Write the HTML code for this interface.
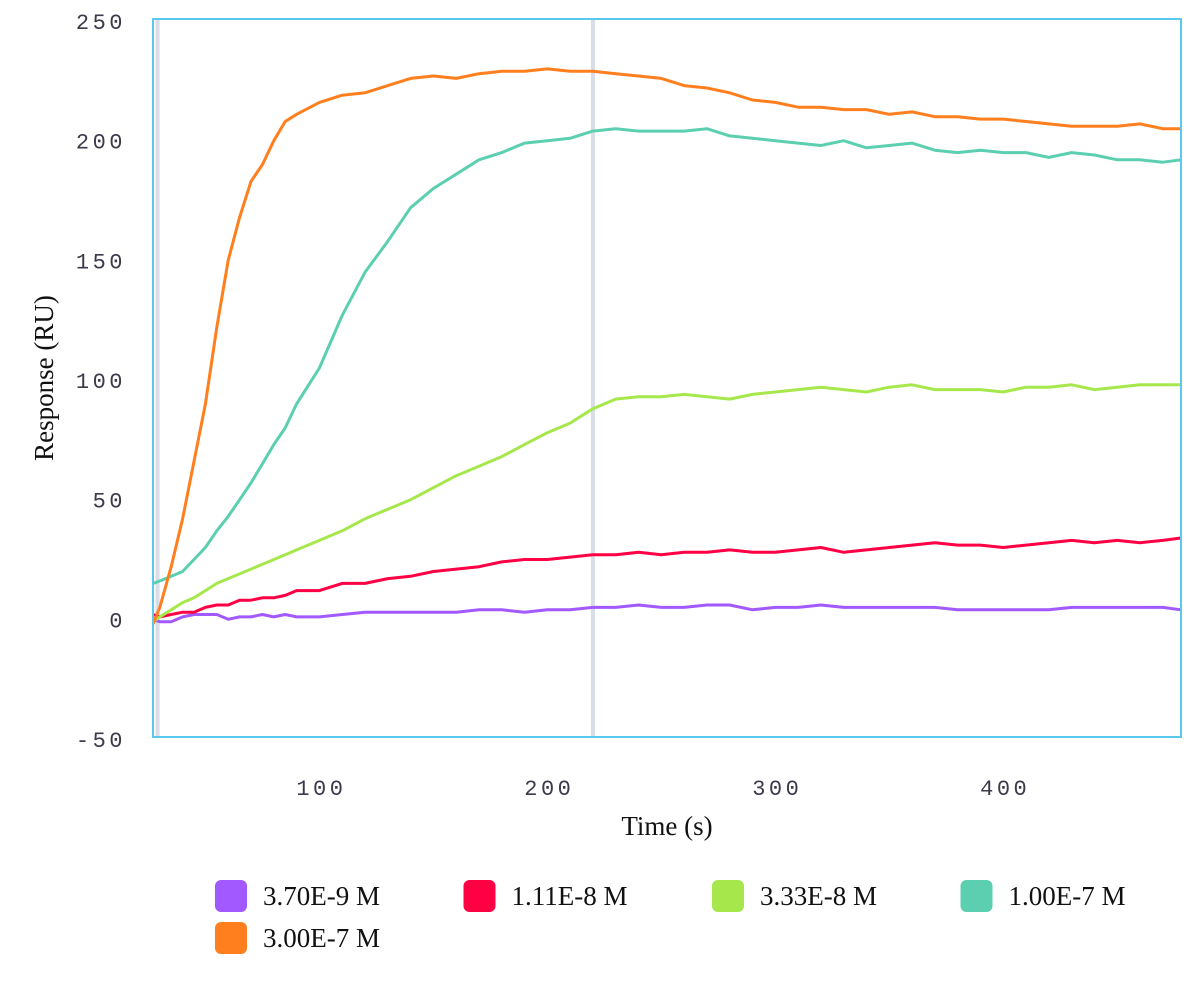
<!DOCTYPE html>
<html><head><meta charset="utf-8"><style>
body{margin:0;background:#fff;width:1200px;height:1000px;overflow:hidden}
svg{display:block}
.tick{font-family:"Liberation Mono",monospace;font-size:22px;fill:#3a3a4a;letter-spacing:3.5px}
.title{font-family:"Liberation Serif",serif;font-size:27px;fill:#111}
.leg{font-family:"Liberation Serif",serif;font-size:27px;fill:#111}
</style></head><body>
<svg id="chart" width="1200" height="1000"></svg>
<script>
const times=[27,30,35,40,45,50,55,60,65,70,75,80,85,90,100,110,120,130,140,150,160,170,180,190,200,210,220,230,240,250,260,270,280,290,300,310,320,330,340,350,360,370,380,390,400,410,420,430,440,450,460,470,478];
const seriesNames=["3.70E-9 M","1.11E-8 M","3.33E-8 M","1.00E-7 M","3.00E-7 M"];
const seriesColors=["#a259ff","#ff0044","#a6e84c","#5bcfb0","#ff7f1e"];
const purple=[0,-1,-1,1,2,2,2,0,1,1,2,1,2,1,1,2,3,3,3,3,3,4,4,3,4,4,5,5,6,5,5,6,6,4,5,5,6,5,5,5,5,5,4,4,4,4,4,5,5,5,5,5,4];
const red=[2,1,2,3,3,5,6,6,8,8,9,9,10,12,12,15,15,17,18,20,21,22,24,25,25,26,27,27,28,27,28,28,29,28,28,29,30,28,29,30,31,32,31,31,30,31,32,33,32,33,32,33,34];
const green=[-1,1,4,7,9,12,15,17,19,21,23,25,27,29,33,37,42,46,50,55,60,64,68,73,78,82,88,92,93,93,94,93,92,94,95,96,97,96,95,97,98,96,96,96,95,97,97,98,96,97,98,98,98];
const teal=[15,16,18,20,25,30,37,43,50,57,65,73,80,90,105,127,145,158,172,180,186,192,195,199,200,201,204,205,204,204,204,205,202,201,200,199,198,200,197,198,199,196,195,196,195,195,193,195,194,192,192,191,192];
const orange=[-2,5,22,42,66,90,122,150,168,183,190,200,208,211,216,219,220,223,226,227,226,228,229,229,230,229,229,228,227,226,223,222,220,217,216,214,214,213,213,211,212,210,210,209,209,208,207,206,206,206,207,205,205];
const yTicks=[-50,0,50,100,150,200,250];
const xTicks=[100,200,300,400];
const markers=[29,220];

const NS="http://www.w3.org/2000/svg";
const svg=document.getElementById("chart");
const L=153,R=1181,T=19,B=737,x0=27,x1=478,y0=-50,y1=250;
const xs=t=>L+(t-x0)/(x1-x0)*(R-L);
const ys=v=>B-(v-y0)/(y1-y0)*(B-T)+2;
function mk(tag,attrs){const e=document.createElementNS(NS,tag);for(const k in attrs)e.setAttribute(k,attrs[k]);svg.appendChild(e);return e;}

markers.forEach(m=>{
  const l=mk("line",{x1:xs(m),x2:xs(m),y1:T,y2:B,stroke:"#d8dee8","stroke-width":4});
  
  
});
yTicks.forEach(v=>{
  const t=mk("text",{x:126,y:ys(v)+8,"text-anchor":"end",class:"tick"});t.textContent=v;
  
  
});
xTicks.forEach(v=>{
  const t=mk("text",{x:xs(v)+2,y:795,"text-anchor":"middle",class:"tick"});t.textContent=v;
  
  
});
const data=[purple,red,green,teal,orange];
data.forEach((arr,i)=>{
  const d=arr.map((v,j)=>(j?"L":"M")+xs(times[j]).toFixed(1)+","+ys(v).toFixed(1)).join("");
  const p=mk("path",{d:d,fill:"none",stroke:seriesColors[i],"stroke-width":3,"stroke-linejoin":"round"});
  
  
});
const fr=mk("rect",{x:L,y:T,width:R-L,height:B-T,fill:"none",stroke:"#5bc8ee","stroke-width":2});


const xt=mk("text",{x:667,y:835,"text-anchor":"middle",class:"title"});xt.textContent="Time (s)";


const yt=mk("text",{x:0,y:0,"text-anchor":"middle",class:"title",transform:"translate(53,378) rotate(-90)"});yt.textContent="Response (RU)";


seriesNames.forEach((n,i)=>{
  const col=i%4,row=Math.floor(i/4);
  const gx=215+col*248.5,gy=880+row*42;
  const r=mk("rect",{x:gx,y:gy,width:32,height:32,rx:6,fill:seriesColors[i]});
  
  
  const t=mk("text",{x:gx+48,y:gy+25,class:"leg"});t.textContent=n;
  
  
});
</script>
</body></html>
